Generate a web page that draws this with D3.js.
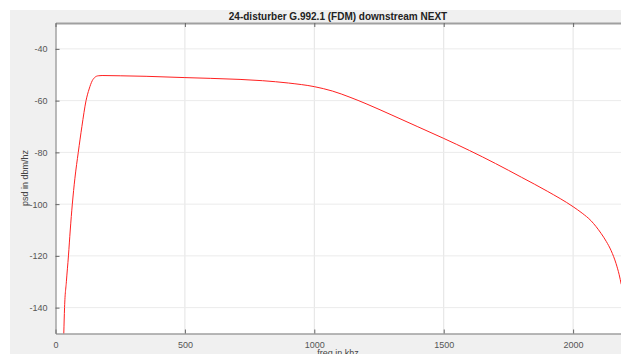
<!DOCTYPE html>
<html>
<head>
<meta charset="utf-8">
<script src="https://cdn.jsdelivr.net/npm/d3@7"></script>
<style>
  html, body { margin: 0; padding: 0; background: #fff; }
  svg { display: block; font-family: "Liberation Sans", Arial, sans-serif; }
</style>
</head>
<body>
<script>
// frequency (kHz) and psd (dBm/Hz)
const freq = [20, 32, 35, 42, 50, 57, 65, 75, 88, 102, 118, 130, 142, 152, 165, 180, 250, 350, 500, 600, 713, 800, 900, 1000, 1070, 1138, 1200, 1300, 1400, 1500, 1600, 1700, 1800, 1900, 2000, 2035, 2069, 2088, 2108, 2128, 2147, 2166, 2178, 2186];
const psd = [-190, -150, -140, -130, -120, -110, -100, -90, -80, -70, -60, -55.5, -52.3, -51, -50.4, -50.3, -50.4, -50.6, -51.1, -51.4, -51.8, -52.3, -53.2, -54.6, -56.3, -58.7, -61.2, -65.6, -70.1, -74.6, -79.3, -84.3, -89.6, -95.0, -101, -103.5, -106.4, -108.6, -111.3, -114.4, -118.0, -123.0, -127.3, -131];
const xTicks = [0, 500, 1000, 1500, 2000];
const yTicks = [-140, -120, -100, -80, -60, -40];

const width = 621, height = 354;
const svg = d3.select('body').append('svg')
    .attr('width', width)
    .attr('height', height);

// grey figure background
svg.append('rect')
    .attr('x', 10).attr('y', 10)
    .attr('width', width - 10).attr('height', height - 10)
    .attr('fill', '#f0f0f0');

const mLeft = 55.5, mTop = 23, mBottom = 333.5;
const x = d3.scaleLinear().domain([0, 2185]).range([mLeft, 621]);
const y = d3.scaleLinear().domain([-150, -30]).range([mBottom, mTop]);

svg.append('rect')
    .attr('x', mLeft).attr('y', mTop)
    .attr('width', width - mLeft).attr('height', mBottom - mTop)
    .attr('fill', '#fff');

// grid
svg.append('g').selectAll('line')
    .data(xTicks.slice(1))
    .enter().append('line')
    .attr('x1', d => x(d)).attr('x2', d => x(d))
    .attr('y1', mTop).attr('y2', mBottom)
    .attr('stroke', '#e3e3e3');

svg.append('g').selectAll('line')
    .data(yTicks)
    .enter().append('line')
    .attr('x1', mLeft).attr('x2', width)
    .attr('y1', d => y(d)).attr('y2', d => y(d))
    .attr('stroke', '#ebebeb');

// curve
svg.append('clipPath').attr('id', 'clip')
    .append('rect')
    .attr('x', mLeft).attr('y', mTop)
    .attr('width', width - mLeft).attr('height', mBottom - mTop);

const pts = freq.map((f, i) => [f, psd[i]]);
svg.append('path')
    .datum(pts)
    .attr('clip-path', 'url(#clip)')
    .attr('fill', 'none')
    .attr('stroke', '#ff2020')
    .attr('stroke-width', 1)
    .attr('d', d3.line()
        .x(d => x(d[0]))
        .y(d => y(d[1]))
        .curve(d3.curveMonotoneX));

// axes (ticks pointing inward like matlab)
const plain = d => String(d);
const xAxis = svg.append('g')
    .attr('transform', `translate(0, ${mBottom})`)
    .call(d3.axisBottom(x).tickValues(xTicks).tickFormat(plain)
        .tickSizeInner(-4).tickSizeOuter(0).tickPadding(8));
const yAxis = svg.append('g')
    .attr('transform', `translate(${mLeft}, 0)`)
    .call(d3.axisLeft(y).tickValues(yTicks).tickFormat(plain)
        .tickSizeInner(-4).tickSizeOuter(0).tickPadding(8));
const topAxis = svg.append('g')
    .attr('transform', `translate(0, ${mTop})`)
    .call(d3.axisTop(x).tickValues(xTicks).tickSizeInner(-4).tickSizeOuter(0).tickFormat(''));

[xAxis, yAxis, topAxis].forEach(g => {
    g.select('.domain').attr('stroke', '#777');
    g.selectAll('.tick line').attr('stroke', '#666');
    g.selectAll('.tick text')
        .attr('fill', '#555')
        .style('font-size', '9px')
        .style('font-family', '"Liberation Sans", Arial, sans-serif');
});
topAxis.select('.domain').attr('stroke', '#a0a0a0').attr('stroke-width', 2);

// title and labels
svg.append('text')
    .attr('x', 338)
    .attr('y', 20)
    .attr('text-anchor', 'middle')
    .style('font-size', '10px')
    .style('font-weight', 'bold')
    .attr('fill', '#222')
    .text('24-disturber G.992.1 (FDM) downstream NEXT');

svg.append('text')
    .attr('transform', 'rotate(-90)')
    .attr('x', -178)
    .attr('y', 28)
    .attr('text-anchor', 'middle')
    .style('font-size', '9px')
    .attr('fill', '#444')
    .text('psd in dbm/hz');

svg.append('text')
    .attr('x', 338)
    .attr('y', 356)
    .attr('text-anchor', 'middle')
    .style('font-size', '9px')
    .attr('fill', '#444')
    .text('freq in khz');
</script>
</body>
</html>
